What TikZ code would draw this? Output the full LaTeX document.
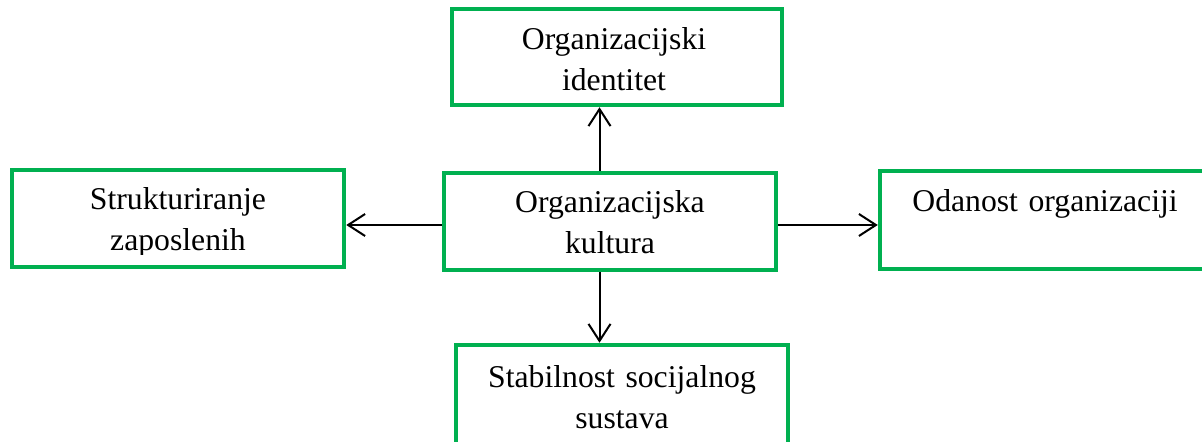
\documentclass[tikz,border=0pt]{standalone}
\usepackage{fontspec}
\setmainfont{Liberation Serif}
\usetikzlibrary{arrows.meta}
\definecolor{boxgreen}{HTML}{00B050}
\tikzset{
  box/.style={draw=boxgreen, line width=2.25pt, rectangle, inner sep=0pt, fill=white},
  lbl/.style={anchor=base, text width=200pt, align=center, inner sep=0pt,
    font=\fontsize{15.85}{20.5}\selectfont},
  arr/.style={draw=black, line width=1pt, -{Straight Barb[length=8.5pt,width=11pt,line width=1pt]}}
}
\begin{document}
\begin{tikzpicture}[x=0.5pt,y=-0.5pt]
\useasboundingbox (0,0) rectangle (1202,442);
% boxes
\node[box, minimum width=165pt, minimum height=48pt] (t) at (617,57) {};
\node[box, minimum width=166pt, minimum height=48.5pt] (l) at (178,218.5) {};
\node[box, minimum width=166pt, minimum height=48.5pt] (c) at (610,221.5) {};
\node[box, minimum width=165pt, minimum height=49pt] (r) at (1045,220) {};
\node[box, minimum width=166pt, minimum height=50.5pt] (b) at (622,395.5) {};
% labels
\node[lbl] (tt) at (614,50) {Organizacijski\\identitet};
\begin{scope}
  \clip (15,172) rectangle (341,255);
  \node[lbl] (lt) at (178,210) {Strukturiranje\\zaposlenih};
\end{scope}
\node[lbl] (ct) at (610,213) {Organizacijska\\kultura};
\node[lbl] (rt) at (1045,212) {Odanost organizaciji};
\node[lbl] (bt) at (622,387) {Stabilnost socijalnog\\sustava};
% connectors
\coordinate (vx) at (599.5,0);
\coordinate (hy) at (0,225);
\draw[arr] (c.north -| vx) -- (t.south -| vx);
\draw[arr] (c.south -| vx) -- (b.north -| vx);
\draw[arr] (c.west |- hy) -- (l.east |- hy);
\draw[arr] (c.east |- hy) -- (r.west |- hy);
\end{tikzpicture}
\end{document}
